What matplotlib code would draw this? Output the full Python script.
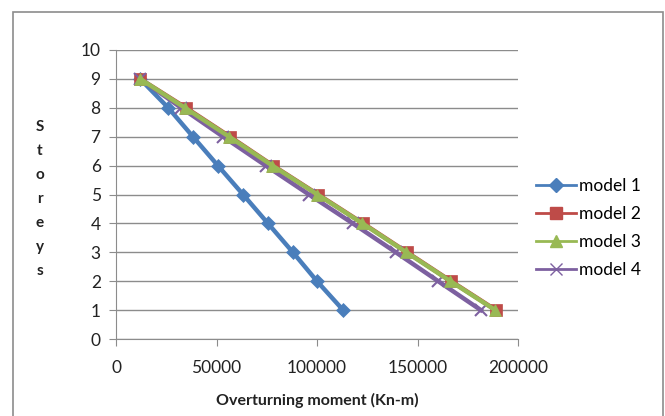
import numpy as np
import matplotlib.pyplot as plt
from matplotlib.lines import Line2D
from matplotlib.patches import Rectangle

plt.rcParams['font.family'] = ['Lato', 'DejaVu Sans']

storeys = [9, 8, 7, 6, 5, 4, 3, 2, 1]
model1 = [12000, 26000, 38300, 50700, 63200, 75600, 88000, 100000, 113000]
model2 = [12000, 34800, 56700, 78100, 100500, 122900, 144800, 166700, 189000]
model3 = [12000, 34300, 56300, 77800, 100200, 122600, 144500, 166400, 188700]
model4 = [12000, 32500, 53300, 74500, 96000, 117800, 139200, 160300, 181500]

labels = ['model 1', 'model 2', 'model 3', 'model 4']
colors = ['#4A7EBB', '#BE4B48', '#98B954', '#7D60A0']
markers = ['D', 's', '^', 'x']
sizes = [7.5, 8.5, 8.5, 8.5]
order = [2, 3, 5, 4]

W, H = 665, 416
fig = plt.figure(figsize=(W / 100, H / 100), dpi=100)
fig.patches.append(Rectangle((13 / W, -0.01), 650 / W, 404 / H + 0.01, transform=fig.transFigure,
                             fill=False, edgecolor='#8c8c8c', linewidth=1.2))

ax = fig.add_axes([116 / W, 1 - 339 / H, 402 / W, 289 / H])

series = [model1, model2, model3, model4]
for vals, lab, c, m, s, z in zip(series, labels, colors, markers, sizes, order):
    ax.plot(vals, storeys, color=c, linewidth=3.2, marker=m, markersize=s,
            markeredgecolor=c, markerfacecolor=c, markeredgewidth=1.5 if m == 'x' else 0.5,
            label=lab, zorder=z)

ax.set_xlim(0, 200000)
ax.set_ylim(0, 10)
ax.set_xticks([0, 50000, 100000, 150000, 200000])
ax.set_yticks(range(0, 11))
ax.grid(axis='y', color='#8c8c8c', linewidth=1)
ax.set_axisbelow(True)
for side in ['top', 'right']:
    ax.spines[side].set_visible(False)
for side in ['left', 'bottom']:
    ax.spines[side].set_color('#8c8c8c')
ax.tick_params(axis='both', color='#8c8c8c', length=5, labelsize=12.5, labelcolor='#222222')
ax.tick_params(axis='x', pad=10)
ax.tick_params(axis='y', pad=6)

ax.set_xlabel('Overturning moment (Kn-m)', fontsize=11.5, fontweight='bold',
              color='#222222', labelpad=12)
fig.text(40 / W, 1 - 199 / H, '\n'.join('Storeys'), ha='center', va='center',
         fontsize=11, fontweight='bold', color='#222222', linespacing=1.9)

handles = [Line2D([], [], color=c, linewidth=2, marker=m, markersize=s,
                  markerfacecolor=c, markeredgecolor=c)
           for c, m, s in zip(colors, markers, sizes)]
fig.legend(handles, labels, loc='center left', bbox_to_anchor=(520 / W, 1 - 228 / H),
           frameon=False, fontsize=12.5, handlelength=2.3, handletextpad=0.2,
           labelspacing=0.7)

fig.savefig('out.png', dpi=100)
